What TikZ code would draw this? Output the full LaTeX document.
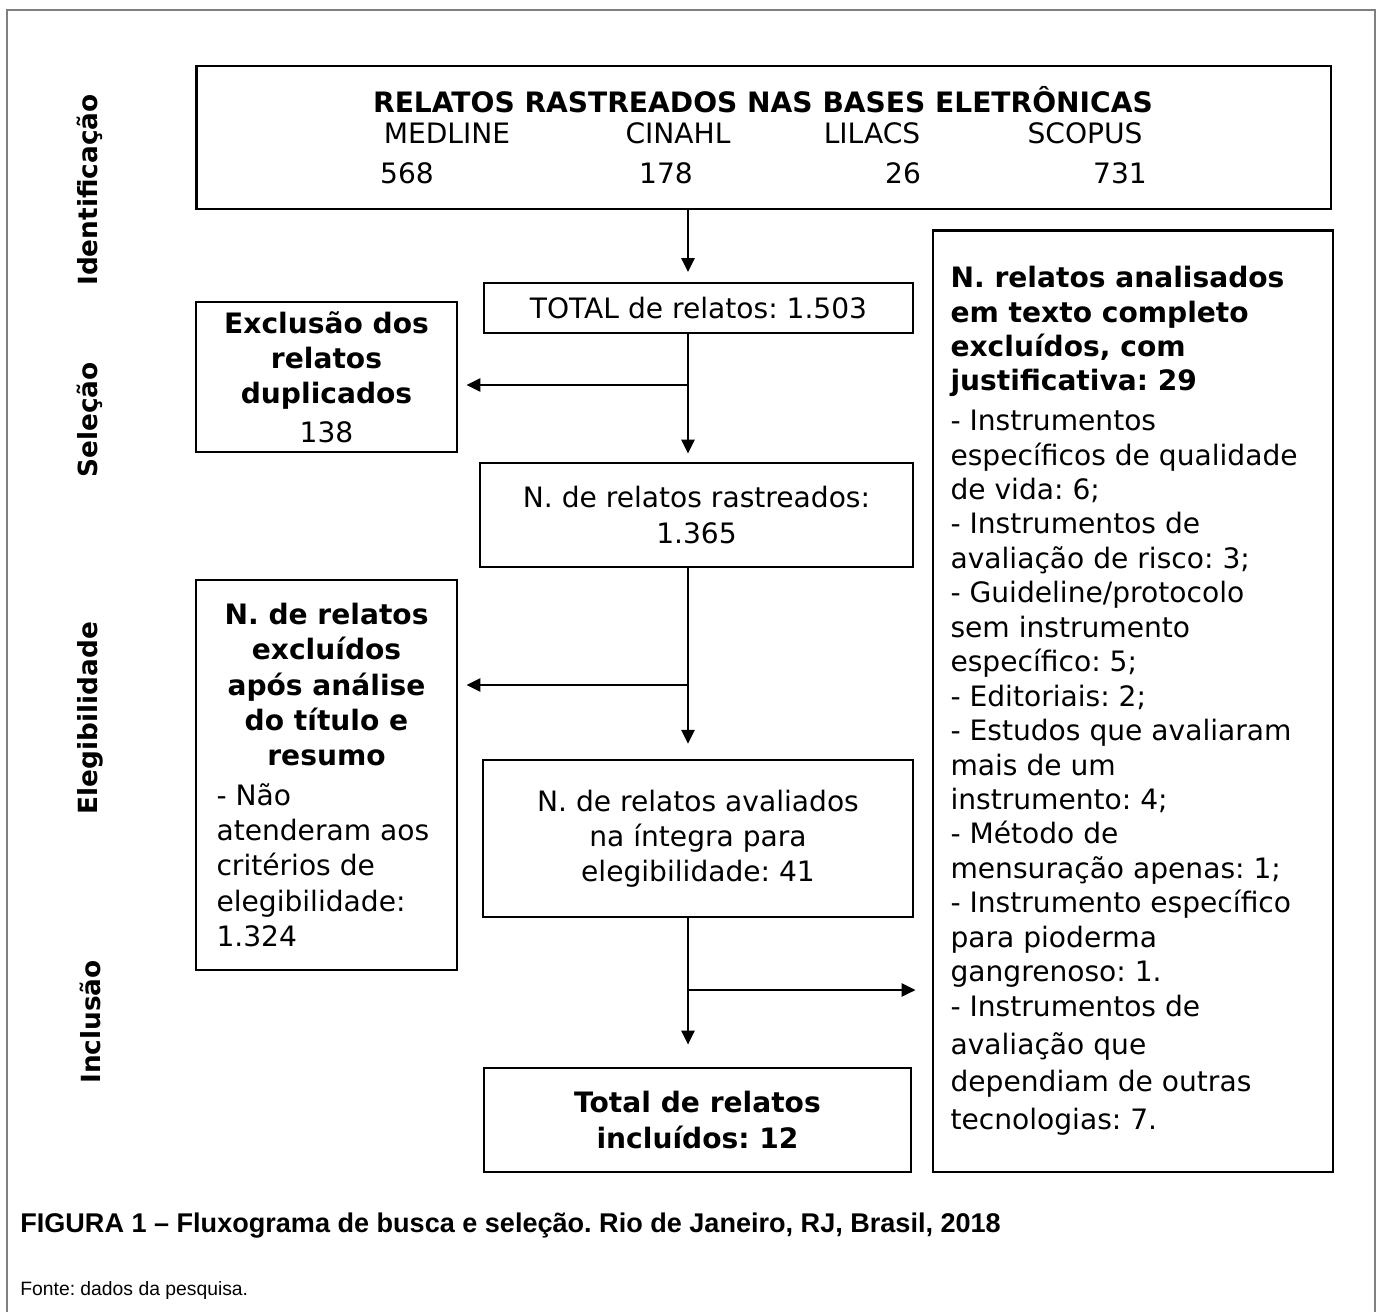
\documentclass[tikz,border=0pt]{standalone}
\usepackage{fontspec}
\setmainfont{DejaVu Sans}
\newfontfamily\capfont{Liberation Sans}
\usepackage{tikz}
\usetikzlibrary{arrows.meta,positioning}
\frenchspacing

\begin{document}
\begin{tikzpicture}[x=0.02cm, y=-0.02cm,
    font=\fontsize{16}{20}\selectfont,
    box/.style={rectangle, draw, line width=1.6pt, inner sep=0pt, align=center},
    thinbox/.style={box, line width=1pt},
    listbox/.style={box, align=none, inner xsep=0.35cm},
    phase/.style={rotate=90, font=\fontsize{15}{18}\selectfont\bfseries},
    arrow/.style={-{Triangle[length=0.28cm, width=0.26cm]}, line width=1.5pt, shorten >=0.2cm}
  ]
    \useasboundingbox (0,0) rectangle (1378,1312);
    \draw[gray, line width=1pt] (7,1312) -- (7,10) -- (1375,10) -- (1375,1312);

    \node[phase] (ident) at (90,190) {Identificação};
    \node[phase] (selec) at (90,420) {Seleção};
    \node[phase] (elegi) at (90,718) {Elegibilidade};
    \node[phase] (inclu) at (90,1022) {Inclusão};

    \node[box, minimum width=22.7cm, minimum height=2.86cm] (bases) at (763.5,137.5) {};
    \node[font=\fontsize{16}{20}\selectfont\bfseries] (titulo) at (763,100) {RELATOS RASTREADOS NAS BASES ELETRÔNICAS};
    \foreach \nome/\xa/\num/\xb in {MEDLINE/447/568/407, CINAHL/678/178/666, LILACS/872/26/903, SCOPUS/1085/731/1120} {
      \node (b\nome) at (\xa,133) {\nome};
      \node (n\nome) at (\xb,173) {\num};
    }

    \node[thinbox, minimum width=8.58cm, minimum height=1cm] (total) at (698.5,308) {TOTAL de relatos: 1.503};
    \node[box, minimum width=5.22cm, minimum height=3cm] (dup) at (326.5,377)
      {\textbf{Exclusão dos}\\\textbf{relatos}\\\textbf{duplicados}\\[2pt]138};
    \node[box, minimum width=8.66cm, minimum height=2.08cm] (rastr) at (696.5,515) {N. de relatos rastreados:\\1.365};
    \node[box, align=none, minimum width=5.22cm, minimum height=7.8cm, text width=4.4cm] (excl) at (326.5,775)
      {{\centering\bfseries N. de relatos\\ excluídos\\ após análise\\ do título e\\ resumo\par}
       \vspace{3pt}
       \raggedright - Não\\ atenderam aos\\ critérios de\\ elegibilidade:\\ 1.324\par};
    \node[box, line width=1.3pt, minimum width=8.6cm, minimum height=3.14cm] (aval) at (698,838.5)
      {N. de relatos avaliados\\na íntegra para\\elegibilidade: 41};
    \node[thinbox, minimum width=8.54cm, minimum height=2.08cm, font=\fontsize{16}{21}\selectfont\bfseries] (incl) at (697.5,1120)
      {Total de relatos\\incluídos: 12};
    \node[listbox, minimum width=8cm, minimum height=18.84cm, text width=7.3cm] (full) at (1133,701)
      {\raggedright
       {\bfseries\baselineskip=19.6pt N. relatos analisados\\ em texto completo\\ excluídos, com\\ justificativa: 29\par}
       \vspace{3pt}
       \baselineskip=19.6pt
       - Instrumentos\\ específicos de qualidade\\ de vida: 6;\\
       - Instrumentos de\\ avaliação de risco: 3;\\
       - Guideline/protocolo\\ sem instrumento\\ específico: 5;\\
       - Editoriais: 2;\\
       - Estudos que avaliaram\\ mais de um\\ instrumento: 4;\\
       - Método de\\ mensuração apenas: 1;\\
       - Instrumento específico\\ para pioderma\\ gangrenoso: 1.\\
       - Instrumentos de\\[2pt] avaliação que\\[2pt] dependiam de outras\\[2pt] tecnologias: 7.\par};

    \coordinate (spine) at (688,0);
    \coordinate (j1) at (688,385);
    \coordinate (j2) at (688,685);
    \coordinate (j3) at (688,990);

    \draw[arrow] (bases.south -| spine) -- (total.north -| spine);
    \draw[arrow, shorten >=0.16cm] (total.south -| spine) -- (rastr.north -| spine);
    \draw[arrow, line width=1.6pt, shorten >=0.16cm] (j1) -- (dup.east |- j1);
    \draw[arrow, shorten >=0.3cm] (rastr.south -| spine) -- (aval.north -| spine);
    \draw[arrow, line width=1.6pt, shorten >=0.16cm] (j2) -- (excl.east |- j2);
    \draw[arrow, shorten >=0.45cm] (aval.south -| spine) -- (incl.north -| spine);
    \draw[arrow, shorten >=0.32cm] (j3) -- (full.west |- j3);

    \node[anchor=west, inner sep=0pt, font=\capfont\bfseries\fontsize{15.4}{18}\selectfont] (legenda) at (20,1226)
      {FIGURA 1 – Fluxograma de busca e seleção. Rio de Janeiro, RJ, Brasil, 2018};
    \node[anchor=west, inner sep=0pt, font=\capfont\fontsize{11}{13}\selectfont] (fonte) at (20,1290)
      {Fonte: dados da pesquisa.};
  \end{tikzpicture}
\end{document}
